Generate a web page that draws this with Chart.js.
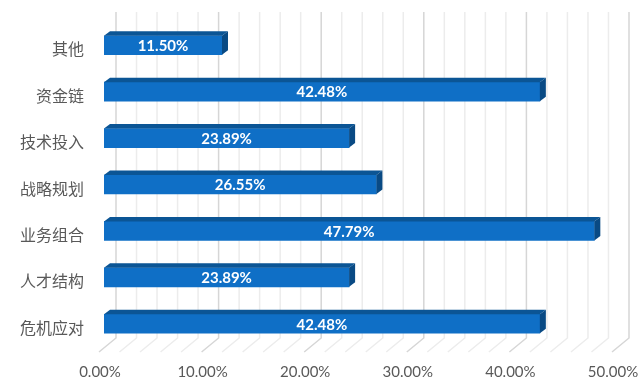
<!DOCTYPE html>
<html>
<head>
<meta charset="utf-8">
<script src="https://cdn.jsdelivr.net/npm/chart.js@4.4.1/dist/chart.umd.min.js"></script>
<style>
  body { margin: 0; background: #fff; }
  #wrap { width: 643px; height: 391px; }
</style>
</head>
<body>
<div id="wrap"><canvas id="barChart"></canvas></div>
<script>
const categories = ['其他', '资金链', '技术投入', '战略规划', '业务组合', '人才结构', '危机应对'];
const shares = [11.50, 42.48, 23.89, 26.55, 47.79, 23.89, 42.48];
const xTickValues = [0, 10, 20, 30, 40, 50];

const frontColor = '#0f6fc6';
const topColor = '#0b5595';
const sideColor = '#094a84';

// back wall + floor lines, drawn behind the bars
const wallPlugin = {
    id: 'wall',
    beforeDatasetsDraw(chart) {
        const { ctx, chartArea: a, scales: { x } } = chart;
        ctx.save();
        ctx.lineWidth = 1.5;
        for (let v = 0; v <= 50; v += 2) {
            const fx = x.getPixelForValue(v);
            ctx.strokeStyle = v % 10 === 0 ? '#d6d6d6' : '#ececec';
            ctx.beginPath();
            ctx.moveTo(fx + 12, a.top - 10);
            ctx.lineTo(fx + 12, a.bottom - 9);
            ctx.lineTo(fx - 5, a.bottom + 5);
            ctx.stroke();
        }
        ctx.restore();
    }
};

// top and side faces of each bar, then the value label
const bar3dPlugin = {
    id: 'bar3d',
    afterDatasetsDraw(chart) {
        const ctx = chart.ctx;
        const dx = 6, dy = 4.5;
        const meta = chart.getDatasetMeta(0);
        ctx.save();
        meta.data.forEach((el, i) => {
            const top = el.y - el.height / 2;
            const bottom = el.y + el.height / 2;
            ctx.fillStyle = topColor;
            ctx.beginPath();
            ctx.moveTo(el.base, top);
            ctx.lineTo(el.base + dx, top - dy);
            ctx.lineTo(el.x + dx, top - dy);
            ctx.lineTo(el.x, top);
            ctx.closePath();
            ctx.fill();

            ctx.fillStyle = sideColor;
            ctx.beginPath();
            ctx.moveTo(el.x, top);
            ctx.lineTo(el.x + dx, top - dy);
            ctx.lineTo(el.x + dx, bottom - dy);
            ctx.lineTo(el.x, bottom);
            ctx.closePath();
            ctx.fill();

            ctx.fillStyle = '#ffffff';
            ctx.font = 'bold 15px Lato';
            ctx.textAlign = 'center';
            ctx.textBaseline = 'middle';
            ctx.fillText(shares[i].toFixed(2) + '%', (el.base + el.x) / 2, el.y + 1);
        });
        ctx.restore();
    }
};

// drop the label-overflow padding so layout.padding sets the plot box
const noOverflow = (scale) => {
    scale.paddingLeft = 0;
    scale.paddingRight = 0;
    scale.paddingTop = 0;
    scale.paddingBottom = 0;
};

new Chart(document.getElementById('barChart'), {
    type: 'bar',
    data: {
        labels: categories,
        datasets: [{
            data: shares,
            backgroundColor: frontColor,
            borderWidth: 0,
            barThickness: 19
        }]
    },
    options: {
        indexAxis: 'y',
        responsive: true,
        maintainAspectRatio: false,
        animation: false,
        layout: { padding: { top: 22, right: 26, left: 0, bottom: 0 } },
        plugins: {
            legend: { display: false },
            tooltip: { enabled: false }
        },
        scales: {
            x: {
                min: 0,
                max: 50,
                afterFit: (scale) => { scale.height = 44; noOverflow(scale); },
                afterBuildTicks: (scale) => {
                    scale.ticks = xTickValues.map(v => ({ value: v }));
                },
                grid: { display: false, drawTicks: false },
                border: { display: false },
                ticks: {
                    padding: 16,
                    labelOffset: -4,
                    color: '#595959',
                    font: { family: 'Lato', size: 15 },
                    callback: (v) => Number(v).toFixed(2) + '%'
                }
            },
            y: {
                afterFit: (scale) => { scale.width = 104; noOverflow(scale); },
                grid: { display: false, drawTicks: false },
                border: { display: false },
                ticks: {
                    padding: 20,
                    labelOffset: 4,
                    color: '#595959',
                    font: { family: 'Noto Sans CJK SC', size: 16 }
                }
            }
        }
    },
    plugins: [wallPlugin, bar3dPlugin]
});
</script>
</body>
</html>
